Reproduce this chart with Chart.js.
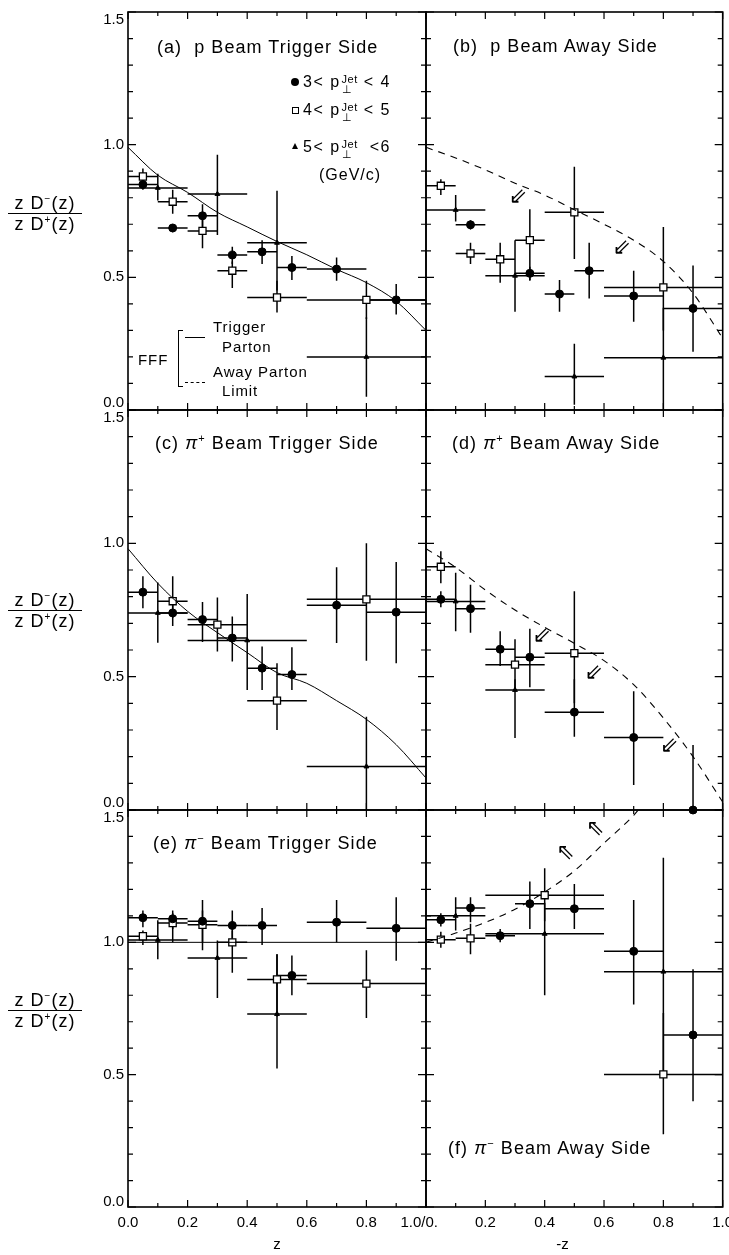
<!DOCTYPE html>
<html>
<head>
<meta charset="utf-8">
<script src="https://cdn.jsdelivr.net/npm/chart.js@4.4.1/dist/chart.umd.min.js"></script>
<style>
  html, body { margin: 0; padding: 0; background: #fff; }
  #fig { position: relative; width: 729px; height: 1255px; overflow: hidden;
         font-family: "Liberation Sans", Arial, sans-serif; color: #000; }
  #fig canvas { position: absolute; left: 0; top: 0; }
  .t { position: absolute; white-space: nowrap; z-index: 3; }
  .title { font-size: 18px; line-height: 20px; letter-spacing: 1.05px; }
  .title sup { font-size: 11px; line-height: 0; vertical-align: 7px; }
  .lg { font-size: 16px; line-height: 20px; letter-spacing: 1.5px; }
  .ss { display: inline-block; vertical-align: -6px; font-size: 11px; line-height: 10px; margin-left: 1px; letter-spacing: 0.5px; }
  .ss span { display: block; }
  .mk { position: absolute; z-index: 3; box-sizing: border-box; }
  .frac { position: absolute; z-index: 3; left: 8px; width: 74px; text-align: center;
          font-size: 18px; line-height: 19px; letter-spacing: 1px; }
  .frac sup { font-size: 10px; line-height: 0; vertical-align: 7px; }
  .frac .den { border-top: 1.5px solid #000; padding-top: 1px; }
  .fff { font-size: 15px; line-height: 18px; letter-spacing: 0.9px; }
</style>
</head>
<body>
<div id="fig">
  <!-- panel titles -->
  <div class="t title" style="left:157px;top:37px">(a)&nbsp; p Beam Trigger Side</div>
  <div class="t title" style="left:453px;top:36px">(b)&nbsp; p Beam Away Side</div>
  <div class="t title" style="left:155px;top:433px">(c) <i>π</i><sup>+</sup> Beam Trigger Side</div>
  <div class="t title" style="left:452px;top:433px">(d) <i>π</i><sup>+</sup> Beam Away Side</div>
  <div class="t title" style="left:153px;top:833px">(e) <i>π</i><sup>−</sup> Beam Trigger Side</div>
  <div class="t title" style="left:448px;top:1138px">(f) <i>π</i><sup>−</sup> Beam Away Side</div>

  <!-- jet momentum legend -->
  <div class="mk" style="left:291px;top:78px;width:8px;height:8px;border-radius:50%;background:#000"></div>
  <div class="t lg" style="left:303px;top:72px">3&lt; p<span class="ss"><span>Jet</span><span>⊥</span></span> &lt; 4</div>
  <div class="mk" style="left:292px;top:107px;width:7px;height:7px;border:1.2px solid #000;background:#fff"></div>
  <div class="t lg" style="left:303px;top:100px">4&lt; p<span class="ss"><span>Jet</span><span>⊥</span></span> &lt; 5</div>
  <div class="mk" style="left:292px;top:143px;width:0;height:0;border-left:3.5px solid transparent;border-right:3.5px solid transparent;border-bottom:6px solid #000"></div>
  <div class="t lg" style="left:303px;top:137px">5&lt; p<span class="ss"><span>Jet</span><span>⊥</span></span> &nbsp;&lt;6</div>
  <div class="t lg" style="left:319px;top:165px;letter-spacing:1px">(GeV/c)</div>

  <!-- FFF curve legend -->
  <div class="t fff" style="left:138px;top:351px">FFF</div>
  <div class="mk" style="left:178px;top:330px;width:5px;height:57px;border:1px solid #000;border-right:none"></div>
  <div class="mk" style="left:185px;top:337px;width:20px;height:0;border-top:1px solid #000"></div>
  <div class="mk" style="left:185px;top:382px;width:20px;height:0;border-top:1px dashed #000"></div>
  <div class="t fff" style="left:213px;top:318px">Trigger</div>
  <div class="t fff" style="left:222px;top:338px">Parton</div>
  <div class="t fff" style="left:213px;top:363px">Away Parton</div>
  <div class="t fff" style="left:222px;top:382px">Limit</div>

  <!-- y-axis quantity -->
  <div class="frac" style="top:194px"><div>z D<sup>−</sup>(z)</div><div class="den">z D<sup>+</sup>(z)</div></div>
  <div class="frac" style="top:591px"><div>z D<sup>−</sup>(z)</div><div class="den">z D<sup>+</sup>(z)</div></div>
  <div class="frac" style="top:991px"><div>z D<sup>−</sup>(z)</div><div class="den">z D<sup>+</sup>(z)</div></div>
</div>

<script>
// Each point: [z, ratio, zLow, zHigh, ratioLow, ratioHigh]
// low = 3<pT<4, mid = 4<pT<5, high = 5<pT<6 (GeV/c)

// (a) p beam, trigger side
const aLow = [
  [0.05, 0.850, 0.0, 0.1, 0.830, 0.870],
  [0.15, 0.686, 0.1, 0.2, 0.670, 0.700],
  [0.25, 0.732, 0.2, 0.3, 0.690, 0.775],
  [0.35, 0.584, 0.3, 0.4, 0.550, 0.615],
  [0.45, 0.596, 0.4, 0.5, 0.550, 0.640],
  [0.55, 0.537, 0.5, 0.6, 0.490, 0.580],
  [0.70, 0.531, 0.6, 0.8, 0.487, 0.575],
  [0.90, 0.415, 0.8, 1.0, 0.360, 0.475]
];
const aMid = [
  [0.05, 0.880, 0.0, 0.1, 0.850, 0.910],
  [0.15, 0.785, 0.1, 0.2, 0.740, 0.830],
  [0.25, 0.675, 0.2, 0.3, 0.610, 0.740],
  [0.35, 0.525, 0.3, 0.4, 0.460, 0.560],
  [0.50, 0.424, 0.4, 0.6, 0.367, 0.487],
  [0.80, 0.415, 0.6, 1.0, 0.343, 0.487]
];
const aHigh = [
  [0.10, 0.837, 0.0, 0.2, 0.790, 0.890],
  [0.30, 0.814, 0.2, 0.4, 0.660, 0.962],
  [0.50, 0.630, 0.4, 0.6, 0.450, 0.826],
  [0.80, 0.200, 0.6, 1.0, 0.050, 0.350]
];
const aCurve = [[0, 0.99], [0.1, 0.885], [0.2, 0.82], [0.3, 0.745], [0.4, 0.69], [0.5, 0.635],
                [0.6, 0.585], [0.7, 0.53], [0.8, 0.48], [0.9, 0.41], [1.0, 0.30]];

// (b) p beam, away side
const bLow = [
  [0.15, 0.698, 0.1, 0.2, 0.680, 0.715],
  [0.35, 0.515, 0.3, 0.4, 0.490, 0.540],
  [0.45, 0.437, 0.4, 0.5, 0.370, 0.490],
  [0.55, 0.525, 0.5, 0.6, 0.420, 0.630],
  [0.70, 0.430, 0.6, 0.8, 0.333, 0.525],
  [0.90, 0.383, 0.8, 1.0, 0.220, 0.545]
];
const bMid = [
  [0.05, 0.845, 0.0, 0.1, 0.810, 0.870],
  [0.15, 0.590, 0.1, 0.2, 0.550, 0.630],
  [0.25, 0.568, 0.2, 0.3, 0.480, 0.630],
  [0.35, 0.640, 0.3, 0.4, 0.487, 0.757],
  [0.50, 0.745, 0.4, 0.6, 0.569, 0.917],
  [0.80, 0.462, 0.6, 1.0, 0.300, 0.690]
];
const bHigh = [
  [0.10, 0.754, 0.0, 0.2, 0.710, 0.810],
  [0.30, 0.506, 0.2, 0.4, 0.370, 0.640],
  [0.50, 0.126, 0.4, 0.6, 0.020, 0.250],
  [0.80, 0.197, 0.6, 1.0, 0.000, 0.385]
];
const bCurve = [[0, 0.99], [0.1, 0.95], [0.2, 0.905], [0.3, 0.855], [0.4, 0.81], [0.5, 0.755],
                [0.6, 0.70], [0.7, 0.64], [0.8, 0.56], [0.9, 0.44], [1.0, 0.27]];
const bArrows = [[0.31, 0.80], [0.66, 0.61]];

// (c) pi+ beam, trigger side
const cLow = [
  [0.05, 0.817, 0.0, 0.1, 0.757, 0.877],
  [0.15, 0.739, 0.1, 0.2, 0.690, 0.780],
  [0.25, 0.714, 0.2, 0.3, 0.630, 0.780],
  [0.35, 0.645, 0.3, 0.4, 0.557, 0.726],
  [0.45, 0.532, 0.4, 0.5, 0.450, 0.613],
  [0.55, 0.508, 0.5, 0.6, 0.450, 0.610],
  [0.70, 0.768, 0.6, 0.8, 0.626, 0.910],
  [0.90, 0.742, 0.8, 1.0, 0.550, 0.930]
];
const cMid = [
  [0.15, 0.783, 0.1, 0.2, 0.720, 0.877],
  [0.30, 0.695, 0.2, 0.4, 0.594, 0.797],
  [0.50, 0.410, 0.4, 0.6, 0.300, 0.550],
  [0.80, 0.790, 0.6, 1.0, 0.560, 1.000]
];
const cHigh = [
  [0.10, 0.739, 0.0, 0.2, 0.627, 0.853],
  [0.40, 0.636, 0.2, 0.6, 0.450, 0.810],
  [0.80, 0.163, 0.6, 1.0, 0.000, 0.350]
];
const cCurve = [[0, 0.98], [0.1, 0.85], [0.2, 0.745], [0.3, 0.665], [0.4, 0.59], [0.5, 0.515],
                [0.6, 0.475], [0.7, 0.41], [0.8, 0.34], [0.9, 0.245], [1.0, 0.12]];

// (d) pi+ beam, away side
const dLow = [
  [0.05, 0.790, 0.0, 0.1, 0.760, 0.820],
  [0.15, 0.755, 0.1, 0.2, 0.665, 0.845],
  [0.25, 0.603, 0.2, 0.3, 0.540, 0.670],
  [0.35, 0.573, 0.3, 0.4, 0.460, 0.680],
  [0.50, 0.367, 0.4, 0.6, 0.275, 0.490],
  [0.70, 0.272, 0.6, 0.8, 0.094, 0.445],
  [0.90, 0.000, 0.9, 0.9, 0.000, 0.244]
];
const dMid = [
  [0.05, 0.912, 0.0, 0.1, 0.850, 0.970],
  [0.30, 0.545, 0.2, 0.4, 0.450, 0.640],
  [0.50, 0.588, 0.4, 0.6, 0.400, 0.820]
];
const dHigh = [
  [0.10, 0.782, 0.0, 0.2, 0.670, 0.890],
  [0.30, 0.450, 0.2, 0.4, 0.270, 0.490]
];
const dCurve = [[0, 0.98], [0.1, 0.91], [0.2, 0.825], [0.3, 0.75], [0.4, 0.685], [0.5, 0.625],
                [0.6, 0.56], [0.7, 0.47], [0.8, 0.345], [0.9, 0.20], [1.0, 0.03]];
const dArrows = [[0.39, 0.65], [0.565, 0.514], [0.82, 0.238]];

// (e) pi- beam, trigger side
const eLow = [
  [0.05, 1.093, 0.0, 0.1, 1.057, 1.120],
  [0.15, 1.089, 0.1, 0.2, 1.050, 1.120],
  [0.25, 1.080, 0.2, 0.3, 0.970, 1.160],
  [0.35, 1.064, 0.3, 0.4, 1.000, 1.120],
  [0.45, 1.064, 0.4, 0.5, 0.990, 1.130],
  [0.55, 0.875, 0.5, 0.6, 0.800, 0.950],
  [0.70, 1.076, 0.6, 0.8, 1.000, 1.160],
  [0.90, 1.053, 0.8, 1.0, 0.930, 1.170]
];
const eMid = [
  [0.05, 1.023, 0.0, 0.1, 0.990, 1.045],
  [0.15, 1.073, 0.1, 0.2, 1.000, 1.110],
  [0.25, 1.066, 0.2, 0.3, 1.000, 1.120],
  [0.35, 1.000, 0.3, 0.4, 0.885, 1.045],
  [0.50, 0.860, 0.4, 0.6, 0.720, 0.955],
  [0.80, 0.844, 0.6, 1.0, 0.714, 0.970]
];
const eHigh = [
  [0.10, 1.009, 0.0, 0.2, 0.936, 1.083],
  [0.30, 0.941, 0.2, 0.4, 0.790, 1.007],
  [0.50, 0.729, 0.4, 0.6, 0.523, 0.955]
];
const eCurve = [[0, 1.0], [1.0, 1.0]];

// (f) pi- beam, away side
const fLow = [
  [0.05, 1.085, 0.0, 0.1, 1.060, 1.110],
  [0.15, 1.130, 0.1, 0.2, 1.076, 1.170],
  [0.25, 1.025, 0.2, 0.3, 1.000, 1.050],
  [0.35, 1.146, 0.3, 0.4, 1.050, 1.230],
  [0.50, 1.127, 0.4, 0.6, 1.050, 1.220],
  [0.70, 0.966, 0.6, 0.8, 0.765, 1.160],
  [0.90, 0.650, 0.8, 1.0, 0.400, 0.898]
];
const fMid = [
  [0.05, 1.010, 0.0, 0.1, 0.980, 1.040],
  [0.15, 1.015, 0.1, 0.2, 0.955, 1.070],
  [0.40, 1.178, 0.2, 0.6, 1.080, 1.280],
  [0.80, 0.501, 0.6, 1.0, 0.275, 0.733]
];
const fHigh = [
  [0.10, 1.100, 0.0, 0.2, 1.045, 1.170],
  [0.40, 1.032, 0.2, 0.6, 0.800, 1.150],
  [0.80, 0.889, 0.6, 1.0, 0.500, 1.320]
];
const fCurve = [[0, 1.0], [0.1, 1.035], [0.2, 1.075], [0.3, 1.125], [0.4, 1.19], [0.5, 1.27],
                [0.6, 1.375], [0.7, 1.48], [0.715, 1.50]];
const fArrows = [[0.47, 1.337], [0.57, 1.426]];

// axis ticks and their labels
const xMinorTicks = [0, 0.1, 0.2, 0.3, 0.4, 0.5, 0.6, 0.7, 0.8, 0.9, 1.0];
const yMinorTicks = [0, 0.1, 0.2, 0.3, 0.4, 0.5, 0.6, 0.7, 0.8, 0.9, 1.0, 1.1, 1.2, 1.3, 1.4, 1.5];
const xLabelsLeft = [[0, '0.0'], [0.2, '0.2'], [0.4, '0.4'], [0.6, '0.6'], [0.8, '0.8'], [0.977, '1.0/0.']];
const xLabelsRight = [[0.2, '0.2'], [0.4, '0.4'], [0.6, '0.6'], [0.8, '0.8'], [1.0, '1.0']];
const yLabels = [[0, '0.0'], [0.5, '0.5'], [1.0, '1.0'], [1.5, '1.5']];
const xTitles = ['z', '-z'];

// page geometry of the 3x2 grid of frames
const W = 729, H = 1255;
const colX = [[128, 426], [426, 725]];
const rowY = [[12, 410], [410, 810], [810, 1207]];

const panels = [
  { row: 0, col: 0, low: aLow, mid: aMid, high: aHigh, curve: aCurve, dash: false, arrows: [], glyph: '' },
  { row: 0, col: 1, low: bLow, mid: bMid, high: bHigh, curve: bCurve, dash: true, arrows: bArrows, glyph: '⇙' },
  { row: 1, col: 0, low: cLow, mid: cMid, high: cHigh, curve: cCurve, dash: false, arrows: [], glyph: '' },
  { row: 1, col: 1, low: dLow, mid: dMid, high: dHigh, curve: dCurve, dash: true, arrows: dArrows, glyph: '⇙' },
  { row: 2, col: 0, low: eLow, mid: eMid, high: eHigh, curve: eCurve, dash: false, arrows: [], glyph: '' },
  { row: 2, col: 1, low: fLow, mid: fMid, high: fHigh, curve: fCurve, dash: true, arrows: fArrows, glyph: '⇖' }
];

const toPts = arr => arr.map(([x, y, xl, xh, yl, yh]) => ({ x, y, xl, xh, yl, yh }));
const toLine = arr => arr.map(([x, y]) => ({ x, y }));

// horizontal and vertical error bars, drawn under the markers
const errorBars = {
  id: 'errorBars',
  beforeDatasetsDraw(chart) {
    const { ctx, scales: { x, y } } = chart;
    ctx.save();
    ctx.strokeStyle = '#000';
    ctx.lineWidth = 1.5;
    chart.data.datasets.forEach(ds => {
      if (!ds.errorBars) return;
      ds.data.forEach(d => {
        const px = x.getPixelForValue(d.x), py = y.getPixelForValue(d.y);
        ctx.beginPath();
        if (d.xh > d.xl) {
          ctx.moveTo(x.getPixelForValue(d.xl), py);
          ctx.lineTo(x.getPixelForValue(d.xh), py);
        }
        ctx.moveTo(px, y.getPixelForValue(d.yl));
        ctx.lineTo(px, y.getPixelForValue(d.yh));
        ctx.stroke();
      });
    });
    ctx.restore();
  }
};

// frame, inward ticks on all four sides, tick labels, limit arrows
const frame = {
  id: 'frame',
  afterDatasetsDraw(chart, args, opts) {
    const { ctx, chartArea: a, scales: { x, y } } = chart;
    ctx.save();
    ctx.strokeStyle = '#000';
    ctx.lineWidth = 1.6;
    ctx.strokeRect(a.left, a.top, a.right - a.left, a.bottom - a.top);

    ctx.lineWidth = 1.2;
    ctx.beginPath();
    xMinorTicks.forEach((v, i) => {
      const px = x.getPixelForValue(v);
      const len = i % 2 === 0 ? 7 : 4;
      ctx.moveTo(px, a.bottom); ctx.lineTo(px, a.bottom - len);
      ctx.moveTo(px, a.top); ctx.lineTo(px, a.top + len);
    });
    yMinorTicks.forEach((v, i) => {
      const py = y.getPixelForValue(v);
      const len = i % 5 === 0 ? 8 : 5;
      ctx.moveTo(a.left, py); ctx.lineTo(a.left + len, py);
      ctx.moveTo(a.right, py); ctx.lineTo(a.right - len, py);
    });
    ctx.stroke();

    ctx.fillStyle = '#000';
    ctx.font = '15px "Liberation Sans", Arial, sans-serif';
    if (opts.col === 0) {
      ctx.textAlign = 'right';
      ctx.textBaseline = 'middle';
      yLabels.forEach(([v, s]) => {
        let py = y.getPixelForValue(v);
        if (v === 1.5) py += 8;
        if (v === 0) py -= (opts.row === 2 ? 5 : 7);
        ctx.fillText(s, a.left - 4, py);
      });
    }
    if (opts.row === 2) {
      ctx.textAlign = 'center';
      ctx.textBaseline = 'middle';
      const labels = opts.col === 0 ? xLabelsLeft : xLabelsRight;
      labels.forEach(([v, s]) => ctx.fillText(s, x.getPixelForValue(v), a.bottom + 16));
      const tx = opts.col === 0 ? (a.left + a.right) / 2 : x.getPixelForValue(0.46);
      ctx.fillText(xTitles[opts.col], tx, a.bottom + 38);
    }

    if (opts.arrows.length) {
      ctx.font = '22px "DejaVu Sans", sans-serif';
      ctx.textAlign = 'center';
      ctx.textBaseline = 'middle';
      opts.arrows.forEach(([ax, ay]) => ctx.fillText(opts.glyph, x.getPixelForValue(ax), y.getPixelForValue(ay)));
    }
    ctx.restore();
  }
};

const fig = document.getElementById('fig');
panels.forEach(p => {
  const cv = document.createElement('canvas');
  cv.width = W; cv.height = H;
  fig.insertBefore(cv, fig.firstChild);
  const [L, R] = colX[p.col], [T, B] = rowY[p.row];
  new Chart(cv, {
    type: 'scatter',
    data: {
      datasets: [
        { type: 'line', data: toLine(p.curve), borderColor: '#000', borderWidth: p.dash ? 1.1 : 1,
          borderDash: p.dash ? [7, 6] : [], pointRadius: 0, fill: false, showLine: true,
          cubicInterpolationMode: 'monotone', clip: false },
        { data: toPts(p.low), errorBars: true, pointStyle: 'circle', pointRadius: 4,
          backgroundColor: '#000', borderColor: '#000', borderWidth: 1, clip: false },
        { data: toPts(p.mid), errorBars: true, pointStyle: 'rect', pointRadius: 5,
          backgroundColor: '#fff', borderColor: '#000', borderWidth: 1.3, clip: false },
        { data: toPts(p.high), errorBars: true, pointStyle: 'triangle', pointRadius: 2.8,
          backgroundColor: '#000', borderColor: '#000', borderWidth: 1, clip: false }
      ]
    },
    options: {
      responsive: false,
      animation: false,
      devicePixelRatio: 1,
      layout: { padding: { left: L, top: T, right: W - R, bottom: H - B } },
      scales: {
        x: { type: 'linear', min: 0, max: 1, display: false },
        y: { type: 'linear', min: 0, max: 1.5, display: false }
      },
      plugins: {
        legend: { display: false },
        tooltip: { enabled: false },
        frame: { row: p.row, col: p.col, arrows: p.arrows, glyph: p.glyph }
      }
    },
    plugins: [errorBars, frame]
  });
});
</script>
</body>
</html>
